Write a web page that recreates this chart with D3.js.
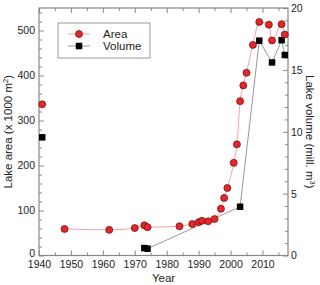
<!DOCTYPE html>
<html>
<head>
<meta charset="utf-8">
<script src="https://cdn.jsdelivr.net/npm/d3@7"></script>
<style>
  body { margin: 0; background: #fff; }
  text { font-family: "Liberation Sans", Arial, sans-serif; fill: #222; }
</style>
</head>
<body>
<div id="graph"></div>
<script>
// area measurements (x 1000 m2), 1941 is a lone estimate
var areaYears = [1948, 1962, 1970, 1973, 1974, 1984, 1988, 1990, 1991, 1993, 1995, 1997, 1998, 1999,
  2001, 2002, 2003, 2004, 2005, 2007, 2009, 2012, 2013, 2016, 2017];
var areaValues = [59, 57, 61, 67, 63, 65, 70, 74, 77, 76, 81, 104, 128, 150,
  206, 247, 343, 378, 406, 468, 519, 513, 478, 514, 491];
var areaLone = [{ year: 1941, value: 336 }];

// volume (mill. m3)
var volYears = [1973, 1974, 2003, 2009, 2013, 2016, 2017];
var volValues = [0.6, 0.55, 3.94, 17.36, 15.6, 17.4, 16.2];
var volLone = [{ year: 1941, value: 9.55 }];

var xTicks = [1940, 1950, 1960, 1970, 1980, 1990, 2000, 2010];
var yLeftTicks = [0, 100, 200, 300, 400, 500];
var yRightTicks = [0, 5, 10, 15, 20];

var W = 320, H = 285;
var margin = { top: 8, right: 32, bottom: 29.5, left: 39 };
var width = W - margin.left - margin.right;
var height = H - margin.top - margin.bottom;

var svg = d3.select('#graph').append('svg')
  .attr('width', W).attr('height', H)
  .append('g')
  .attr('transform', 'translate(' + margin.left + ',' + margin.top + ')');

var x = d3.scaleLinear().domain([1940, 2018]).range([0, width]);
var y = d3.scaleLinear().domain([0, 550]).range([height, 0]);
var y2 = d3.scaleLinear().domain([0, 20]).range([height, 0]);

var axisColor = '#888';

// frame
svg.append('rect')
  .attr('width', width).attr('height', height)
  .attr('fill', 'none').attr('stroke', axisColor).attr('stroke-width', 1.2);

function styleAxis(g) {
  g.select('.domain').remove();
  g.selectAll('line').attr('stroke', axisColor);
  g.selectAll('text').attr('font-size', '10.5px').attr('fill', '#222');
}

// minor ticks
var xMinor = d3.range(1945, 2018, 10);
var yMinor = d3.range(20, 550, 20).filter(function(d) { return d % 100 !== 0; });
var y2Minor = d3.range(1, 20, 1).filter(function(d) { return d % 5 !== 0; });

// bottom
svg.append('g').attr('transform', 'translate(0,' + height + ')')
  .call(d3.axisBottom(x).tickValues(xTicks).tickFormat(d3.format('d')).tickSizeInner(-5).tickPadding(5))
  .call(styleAxis);
svg.append('g').attr('transform', 'translate(0,' + height + ')')
  .call(d3.axisBottom(x).tickValues(xMinor).tickFormat('').tickSizeInner(-3))
  .call(styleAxis);
// top
svg.append('g')
  .call(d3.axisTop(x).tickValues(xTicks).tickFormat('').tickSizeInner(-5))
  .call(styleAxis);
svg.append('g')
  .call(d3.axisTop(x).tickValues(xMinor).tickFormat('').tickSizeInner(-3))
  .call(styleAxis);
// left
var leftAxis = svg.append('g')
  .call(d3.axisLeft(y).tickValues(yLeftTicks).tickSizeInner(-5).tickPadding(4))
  .call(styleAxis);
// the zero label sits a little higher so it clears 1940
leftAxis.selectAll('.tick text').filter(function(d) { return d === 0; }).attr('dy', '0.1em');
svg.append('g')
  .call(d3.axisLeft(y).tickValues(yMinor).tickFormat('').tickSizeInner(-3))
  .call(styleAxis);
// right
svg.append('g').attr('transform', 'translate(' + width + ',0)')
  .call(d3.axisRight(y2).tickValues(yRightTicks).tickSizeInner(-5).tickPadding(3))
  .call(styleAxis);
svg.append('g').attr('transform', 'translate(' + width + ',0)')
  .call(d3.axisRight(y2).tickValues(y2Minor).tickFormat('').tickSizeInner(-3))
  .call(styleAxis);

// axis titles
svg.append('text')
  .attr('x', width / 2).attr('y', height + 26)
  .attr('text-anchor', 'middle').attr('font-size', '11.5px')
  .text('Year');

var tl = svg.append('text')
  .attr('transform', 'translate(' + (-27) + ',' + (height / 2) + ') rotate(-90)')
  .attr('text-anchor', 'middle').attr('font-size', '11.5px');
tl.append('tspan').text('Lake area (x 1000 m');
tl.append('tspan').attr('font-size', '7.5px').attr('dy', -4).text('2');
tl.append('tspan').attr('dy', 4).text(')');

var tr = svg.append('text')
  .attr('transform', 'translate(' + (width + 18) + ',' + (height / 2) + ') rotate(90)')
  .attr('text-anchor', 'middle').attr('font-size', '11.5px');
tr.append('tspan').text('Lake volume (mill. m');
tr.append('tspan').attr('font-size', '7.5px').attr('dy', -4).text('3');
tr.append('tspan').attr('dy', 4).text(')');

var areaData = areaYears.map(function(d, i) { return { year: d, value: areaValues[i] }; });
var volData = volYears.map(function(d, i) { return { year: d, value: volValues[i] }; });

// lines
var areaLine = d3.line()
  .x(function(d) { return x(d.year); })
  .y(function(d) { return y(d.value); })
  .curve(d3.curveMonotoneX);
var volLine = d3.line()
  .x(function(d) { return x(d.year); })
  .y(function(d) { return y2(d.value); });

svg.append('path').datum(volData)
  .attr('d', volLine).attr('fill', 'none')
  .attr('stroke', '#999').attr('stroke-width', 1);
svg.append('path').datum(areaData)
  .attr('d', areaLine).attr('fill', 'none')
  .attr('stroke', '#f5a3a3').attr('stroke-width', 1);

// markers
var sq = 6.5;
svg.selectAll('rect.vol')
  .data(volData.concat(volLone))
  .enter().append('rect')
  .attr('class', 'vol')
  .attr('x', function(d) { return x(d.year) - sq / 2; })
  .attr('y', function(d) { return y2(d.value) - sq / 2; })
  .attr('width', sq).attr('height', sq)
  .attr('fill', '#000');

svg.selectAll('circle.area')
  .data(areaData.concat(areaLone))
  .enter().append('circle')
  .attr('class', 'area')
  .attr('cx', function(d) { return x(d.year); })
  .attr('cy', function(d) { return y(d.value); })
  .attr('r', 3.5)
  .attr('fill', '#e8262a')
  .attr('stroke', '#5a0d0d').attr('stroke-width', 0.7);

// legend
var lg = svg.append('g').attr('transform', 'translate(19,15)');
lg.append('rect')
  .attr('width', 92).attr('height', 35)
  .attr('fill', '#fff').attr('stroke', '#999').attr('stroke-width', 1);
lg.append('line').attr('x1', 10).attr('x2', 32).attr('y1', 11).attr('y2', 11)
  .attr('stroke', '#f5a3a3');
lg.append('circle').attr('cx', 21).attr('cy', 11).attr('r', 3.5)
  .attr('fill', '#e8262a').attr('stroke', '#5a0d0d').attr('stroke-width', 0.7);
lg.append('text').attr('x', 45).attr('y', 15).attr('font-size', '11.5px').text('Area');
lg.append('line').attr('x1', 10).attr('x2', 32).attr('y1', 23).attr('y2', 23)
  .attr('stroke', '#999');
lg.append('rect').attr('x', 21 - sq / 2).attr('y', 23 - sq / 2).attr('width', sq).attr('height', sq)
  .attr('fill', '#000');
lg.append('text').attr('x', 45).attr('y', 27).attr('font-size', '11.5px').text('Volume');
</script>
</body>
</html>
